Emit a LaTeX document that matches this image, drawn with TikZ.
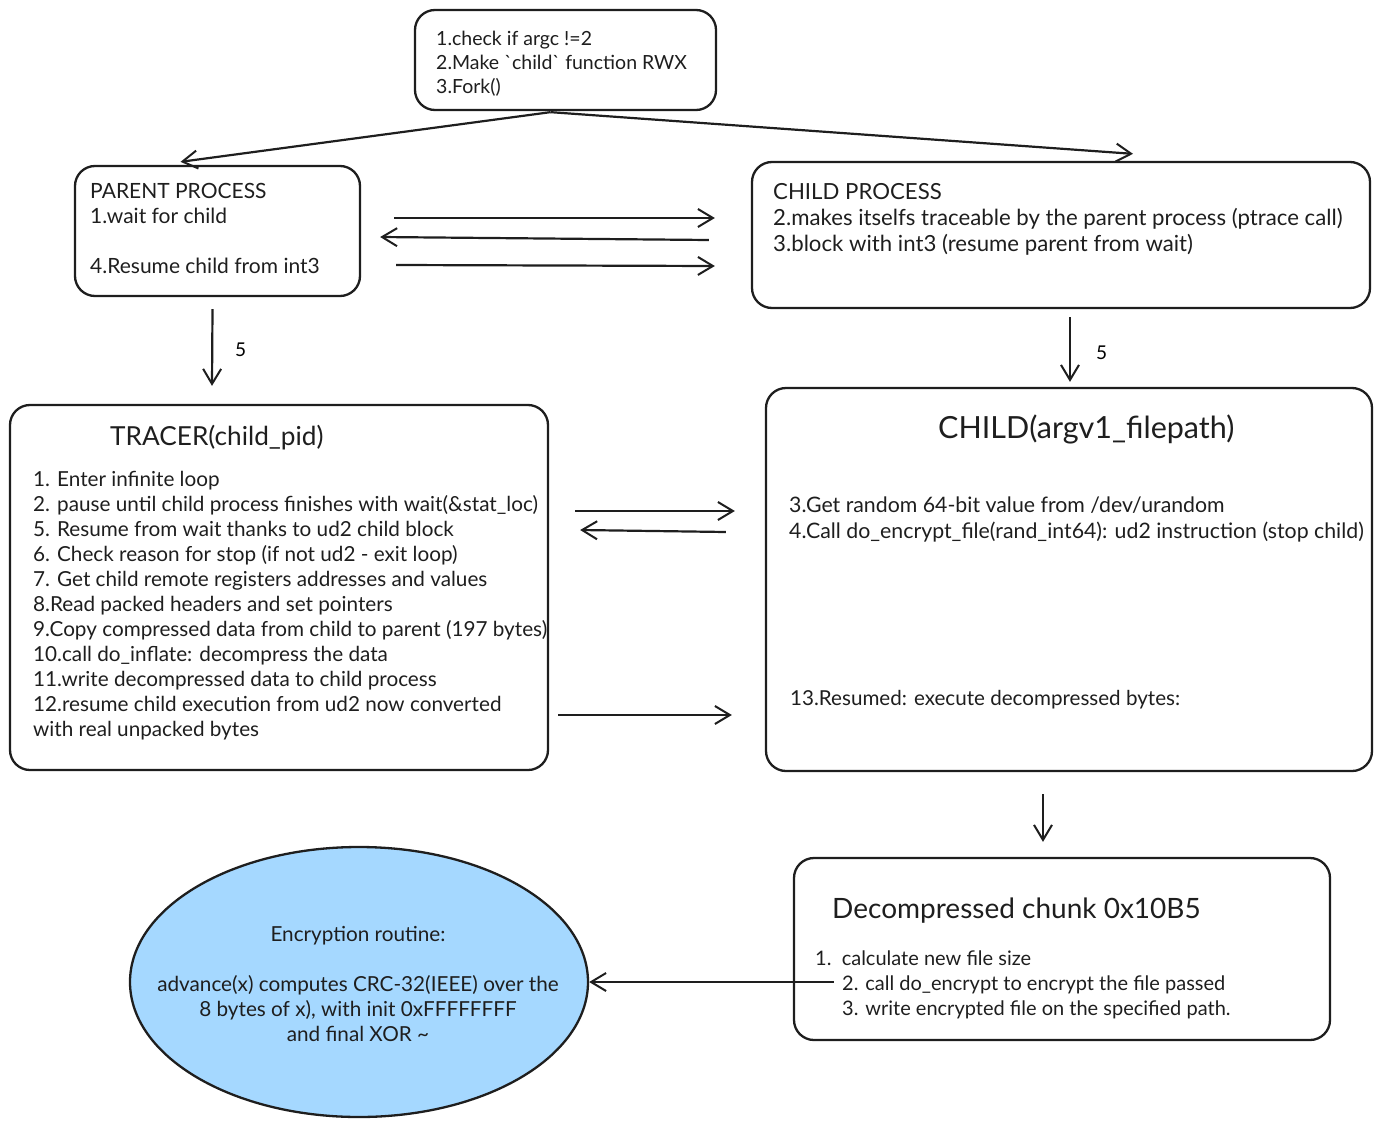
\documentclass[tikz,border=0pt]{standalone}
\usepackage{fontspec}
\newfontfamily\lato{Lato}
\usetikzlibrary{arrows.meta,calc,shapes.geometric}
\definecolor{ellfill}{HTML}{A5D8FF}
\definecolor{ink}{HTML}{1E1E1E}
\tikzset{
  box/.style={draw=ink, line width=2.3pt, rounded corners=20pt, inner sep=0pt},
  conn/.style={draw=ink, line width=2.2pt, -{Straight Barb[length=15pt,width=18pt,line width=2pt]}},
  txt/.style={inner sep=0pt, anchor=north west, align=left, text=ink},
}
\begin{document}
\begin{tikzpicture}[x=1pt,y=-1pt,font=\lato]
\useasboundingbox (0,0) rectangle (1382,1127);
% boxes
\node[box, minimum width=301, minimum height=100] (top) at (565.5,60) {};
\node[box, minimum width=285, minimum height=130] (parent) at (217.5,231) {};
\node[box, minimum width=618, minimum height=146] (childp) at (1061,235) {};
\node[box, minimum width=538, minimum height=365] (tracer) at (279,587.5) {};
\node[box, minimum width=606, minimum height=383] (child) at (1069,579.5) {};
\node[box, minimum width=536, minimum height=182] (decomp) at (1062,949) {};
\node[draw=ink, line width=2.3pt, fill=ellfill, ellipse, minimum width=458, minimum height=270, inner sep=0pt] (enc) at (359,982) {};
% texts
\node[txt, font=\lato\fontsize{19.5}{24}\selectfont] (ttop) at (436,31) {1.check if argc !=2\\2.Make \char96 child\char96{} function RWX\\3.Fork()};
\node[txt, font=\lato\fontsize{21}{25}\selectfont] (tparent) at (90,183) {PARENT PROCESS\\1.wait for child\\[25pt]4.Resume child from int3};
\node[txt, font=\lato\fontsize{22.2}{26}\selectfont] (tchildp) at (773,183) {CHILD PROCESS\\2.makes itselfs traceable by the parent process (ptrace call)\\3.block with int3 (resume parent from wait)};
\node[txt, font=\lato\fontsize{26.2}{30}\selectfont] (ttracerh) at (110,425) {TRACER(child\_pid)};
\node[txt, font=\lato\fontsize{20.7}{25}\selectfont] (ttracer) at (33,471) {1. Enter infinite loop\\2. pause until child process finishes with wait(\&stat\_loc)\\5. Resume from wait thanks to ud2 child block\\6. Check reason for stop (if not ud2 - exit loop)\\7. Get child remote registers addresses and values\\8.Read packed headers and set pointers\\9.Copy compressed data from child to parent (197 bytes)\\10.call do\_inflate: decompress the data\\11.write decompressed data to child process\\12.resume child execution from ud2 now converted\\with real unpacked bytes};
\node[txt, font=\lato\fontsize{30.5}{34}\selectfont] (tchildh) at (938,415) {CHILD(argv1\_filepath)};
\node[txt, font=\lato\fontsize{21.3}{26}\selectfont] (tchild) at (789,497) {3.Get random 64-bit value from /dev/urandom\\4.Call do\_encrypt\_file(rand\_int64): ud2 instruction (stop child)};
\node[txt, font=\lato\fontsize{20.6}{26}\selectfont] (tchild2) at (790,690) {13.Resumed: execute decompressed bytes:};
\node[txt, font=\lato\fontsize{28}{32}\selectfont] (tdecomph) at (832,898) {Decompressed chunk 0x10B5};
\node[txt, font=\lato\fontsize{20}{24.5}\selectfont] (td1) at (815,951) {1.\ \ calculate new file size};
\node[txt, font=\lato\fontsize{20}{24.5}\selectfont] (td2) at (842,976) {2. call do\_encrypt to encrypt the file passed\\3. write encrypted file on the specified path.};
\node[inner sep=0pt, align=center, text=ink, font=\lato\fontsize{20.7}{25}\selectfont] (tenc) at (358,984) {Encryption routine:\\[25pt]advance(x) computes CRC-32(IEEE) over the\\8 bytes of x), with init 0xFFFFFFFF\\and final XOR \textasciitilde};
\node[anchor=west, inner sep=0pt, font=\lato\fontsize{19}{20}\selectfont] (five1) at (235,350) {5};
\node[anchor=west, inner sep=0pt, font=\lato\fontsize{19}{20}\selectfont] (five2) at (1096,353) {5};
% connectors
\coordinate (fk) at ($(top.south)+(-15,1)$);
\draw[conn] (fk) -- ($(parent.north)+(-37,-3)$);
\draw[conn] (fk) -- ($(childp.north)+(72,-7)$);
\draw[conn] ($(parent.east)+(33,-13)$) -- ($(childp.west)+(-36,-17)$);
\draw[conn] ($(childp.west)+(-42,5)$) -- ($(parent.east)+(19,6)$);
\draw[conn] ($(parent.east)+(35,34)$) -- ($(childp.west)+(-36,31)$);
\draw[conn] ($(parent.south)+(-5,12)$) -- ($(tracer.north)+(-67,-18)$);
\draw[conn] ($(childp.south)+(9,8)$) -- ($(child.north)+(1,-5)$);
\draw[conn] ($(tracer.east)+(26,-76.5)$) -- ($(child.west)+(-30,-68.5)$);
\draw[conn] ($(child.west)+(-39,-47.5)$) -- ($(tracer.east)+(31,-57.5)$);
\draw[conn] ($(tracer.east)+(9,127.5)$) -- ($(child.west)+(-33,135.5)$);
\draw[conn] ($(child.south)+(-26,22)$) -- ($(decomp.north)+(-19,-15)$);
\draw[conn] ($(decomp.west)+(41,33)$) -- (enc.east);
\end{tikzpicture}
\end{document}
